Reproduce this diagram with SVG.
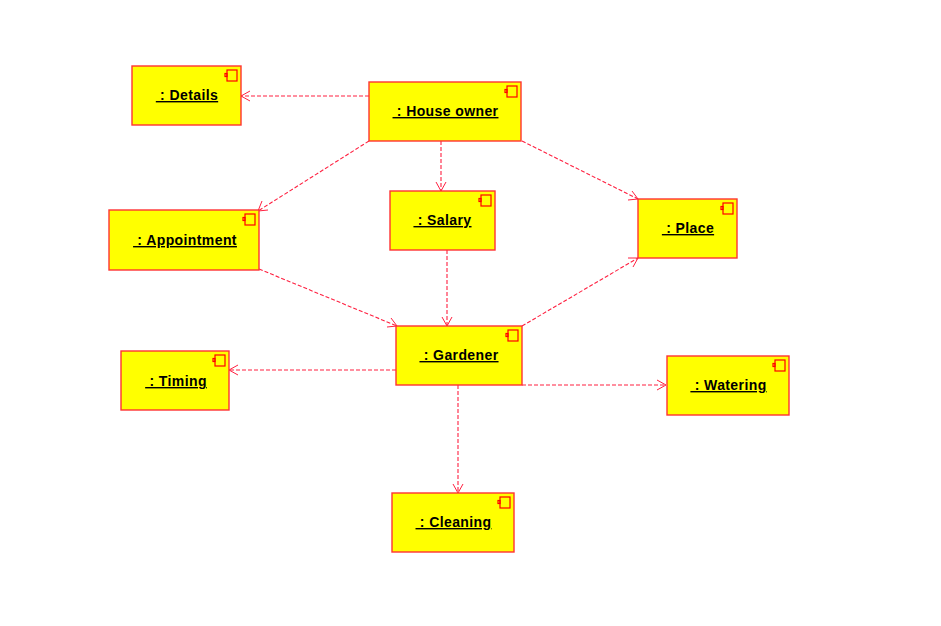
<svg xmlns="http://www.w3.org/2000/svg" width="941" height="626" viewBox="0 0 941 626">
<style>
.b{fill:#ffff00;stroke:#ff3333;stroke-width:1.4}
.i{fill:none;stroke:#ff0000;stroke-width:1.2}
.t{font:bold 14px "Liberation Sans",Arial,sans-serif;fill:#000;text-anchor:middle;text-decoration:underline;text-decoration-thickness:2px;letter-spacing:.4px;white-space:pre}
.c{fill:none;stroke:#ff2040;stroke-width:1.1;stroke-dasharray:4 2}
.a{fill:none;stroke:#ff2040;stroke-width:1}
</style>
<defs>
<g id="ic"><rect class="i" x="2" y="0" width="10" height="11"/><rect class="i" x="0" y="3.500" width="2" height="3"/></g>
</defs>
<rect width="941" height="626" fill="#fff"/>
<g id="connectors">
<path class="c" d="M369 96H241"/><path class="a" d="M250 91L241 96L250 101"/>
<path class="c" d="M441 141V191"/><path class="a" d="M436 182L441 191L446 182"/>
<path class="c" d="M369 141L258 211"/><path class="a" d="M262 201L258 211L268 210"/>
<path class="c" d="M522 141L638 199"/><path class="a" d="M628 200L638 199L632 191"/>
<path class="c" d="M259 269L397 326"/><path class="a" d="M387 327L397 326L391 318"/>
<path class="c" d="M447 250V326"/><path class="a" d="M442 317L447 326L452 317"/>
<path class="c" d="M522 326L638 258"/><path class="a" d="M628 258L638 258L633 267"/>
<path class="c" d="M396 370H229"/><path class="a" d="M238 365L229 370L238 375"/>
<path class="c" d="M522 385H666"/><path class="a" d="M657 380L666 385L657 390"/>
<path class="c" d="M458 385V493"/><path class="a" d="M453 484L458 493L463 484"/>
</g>
<g id="details"><rect class="b" x="132" y="66" width="109" height="59"/><use href="#ic" x="225" y="70"/><text class="t" x="187" y="100"> : Details</text></g>
<g id="houseowner"><rect class="b" x="369" y="82" width="152" height="59"/><use href="#ic" x="505" y="86"/><text class="t" x="445.500" y="116"> : House owner</text></g>
<g id="appointment"><rect class="b" x="109" y="210" width="150" height="60"/><use href="#ic" x="243" y="214"/><text class="t" x="185" y="245"> : Appointment</text></g>
<g id="salary"><rect class="b" x="390" y="191" width="105" height="59"/><use href="#ic" x="479" y="195"/><text class="t" x="442.500" y="225"> : Salary</text></g>
<g id="place"><rect class="b" x="638" y="199" width="99" height="59"/><use href="#ic" x="721" y="203"/><text class="t" x="688" y="233"> : Place</text></g>
<g id="gardener"><rect class="b" x="396" y="326" width="126" height="59"/><use href="#ic" x="506" y="330"/><text class="t" x="459" y="360"> : Gardener</text></g>
<g id="timing"><rect class="b" x="121" y="351" width="108" height="59"/><use href="#ic" x="213" y="355"/><text class="t" x="176" y="386"> : Timing</text></g>
<g id="watering"><rect class="b" x="667" y="356" width="122" height="59"/><use href="#ic" x="773" y="360"/><text class="t" x="728.500" y="390"> : Watering</text></g>
<g id="cleaning"><rect class="b" x="392" y="493" width="122" height="59"/><use href="#ic" x="498" y="497"/><text class="t" x="453.500" y="527"> : Cleaning</text></g>
</svg>
